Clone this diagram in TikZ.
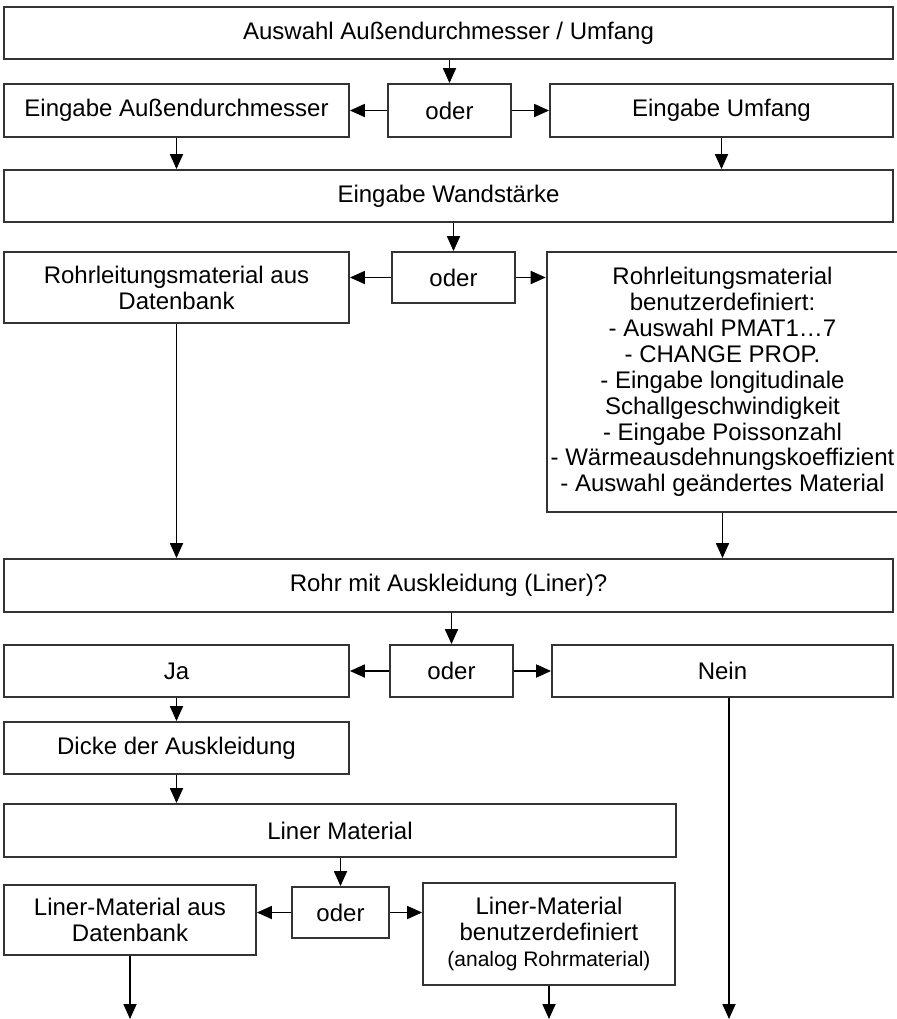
\documentclass[tikz,border=0pt]{standalone}
\usepackage{fontspec}
\setmainfont{Liberation Sans}
\usetikzlibrary{arrows.meta}
\tikzset{every picture/.style={line width=0.9pt}}
\tikzset{
  box/.style={draw=black!80, rectangle, inner sep=2pt, align=center,
    font=\fontsize{12}{12.95}\selectfont},
  arr/.style={-{Triangle[length=7.5pt,width=6.5pt]}}
}

\begin{document}
\begin{tikzpicture}[x=0.5pt,y=-0.5pt]
  \useasboundingbox (0,0) rectangle (896,1019);

    % Aussendurchmesser / Umfang
    \node[box, minimum width=444.5pt, minimum height=26pt] (auswahl) at (448.5,33) {Auswahl Außendurchmesser / Umfang};
    \node[box, minimum width=172.5pt, minimum height=26.5pt] (eingDa) at (176.5,110.5) {Eingabe Außendurchmesser};
    \node[box, minimum width=61.5pt, minimum height=26.5pt] (oderA) at (449.5,110.5) {oder};
    \node[box, minimum width=171.5pt, minimum height=26.5pt] (eingU) at (721.5,110.5) {Eingabe Umfang};
    \node[box, minimum width=444.5pt, minimum height=26pt] (wand) at (448.5,196) {Eingabe Wandstärke};

    % Rohrleitungsmaterial
    \node[box, minimum width=172.5pt, minimum height=35.5pt] (matDb) at (176.5,287.5) {Rohrleitungsmaterial aus\\Datenbank};
    \node[box, minimum width=61.5pt, minimum height=25.5pt] (oderB) at (453.5,277.5) {oder};
    \node[box, minimum width=170.5pt, minimum height=130pt] (matUser) at (722.5,382)
      {Rohrleitungsmaterial\\benutzerdefiniert:\\- Auswahl PMAT1…7\\- CHANGE PROP.\\- Eingabe longitudinale\\Schallgeschwindigkeit\\- Eingabe Poissonzahl\\- Wärmeausdehnungskoeffizient\\- Auswahl geändertes Material};

    % Liner
    \node[box, minimum width=444.5pt, minimum height=26.5pt] (liner) at (448.5,585.5) {Rohr mit Auskleidung (Liner)?};
    \node[box, minimum width=172.5pt, minimum height=26pt] (ja) at (176.5,671) {Ja};
    \node[box, minimum width=61.5pt, minimum height=26pt] (oderC) at (451.5,671) {oder};
    \node[box, minimum width=170.5pt, minimum height=26pt] (nein) at (722.5,671) {Nein};
    \node[box, minimum width=172.5pt, minimum height=26pt] (dicke) at (176.5,748) {Dicke der Auskleidung};
    \node[box, minimum width=336pt, minimum height=26.5pt] (linMat) at (340,830.5) {Liner Material};
    \node[box, minimum width=126pt, minimum height=35pt] (linDb) at (130,920) {Liner-Material aus\\Datenbank};
    \node[box, minimum width=48.5pt, minimum height=25.5pt] (oderD) at (340.5,912.5) {oder};
    \node[box, minimum width=126pt, minimum height=51pt] (linUser) at (549,934)
      {Liner-Material\\benutzerdefiniert\\{\fontsize{10.5}{12}\selectfont (analog Rohrmaterial)}};

    \coordinate (endDb) at (130,1019);
    \coordinate (endUser) at (549,1019);
    \coordinate (endNein) at (729,1019);

    % connectors
    \draw[arr] (auswahl.south -| oderA.north) -- (oderA.north);
    \draw[arr] (oderA.west) -- (eingDa.east);
    \draw[arr] (oderA.east) -- (eingU.west);
    \draw[arr] (eingDa.south) -- (eingDa.south |- wand.north);
    \draw[arr] (eingU.south) -- (eingU.south |- wand.north);
    \draw[arr] (wand.south -| oderB.north) -- (oderB.north);
    \draw[arr] (oderB.west) -- (matDb.east |- oderB.west);
    \draw[arr] (oderB.east) -- (matUser.west |- oderB.east);
    \draw[arr] (matDb.south) -- (matDb.south |- liner.north);
    \draw[arr] (matUser.south) -- (matUser.south |- liner.north);
    \draw[arr] (liner.south -| oderC.north) -- (oderC.north);
    \draw[arr] (oderC.west) -- (ja.east);
    \draw[arr] (oderC.east) -- (nein.west);
    \draw[arr] (ja.south) -- (dicke.north);
    \draw[arr] (dicke.south) -- (dicke.south |- linMat.north);
    \draw[arr] (linMat.south -| oderD.north) -- (oderD.north);
    \draw[arr] (oderD.west) -- (oderD.west -| linDb.east);
    \draw[arr] (oderD.east) -- (oderD.east -| linUser.west);
    \draw[arr] (linDb.south) -- (endDb);
    \draw[arr] (linUser.south) -- (endUser);
    \draw[arr] (nein.south -| endNein) -- (endNein);
\end{tikzpicture}
\end{document}
